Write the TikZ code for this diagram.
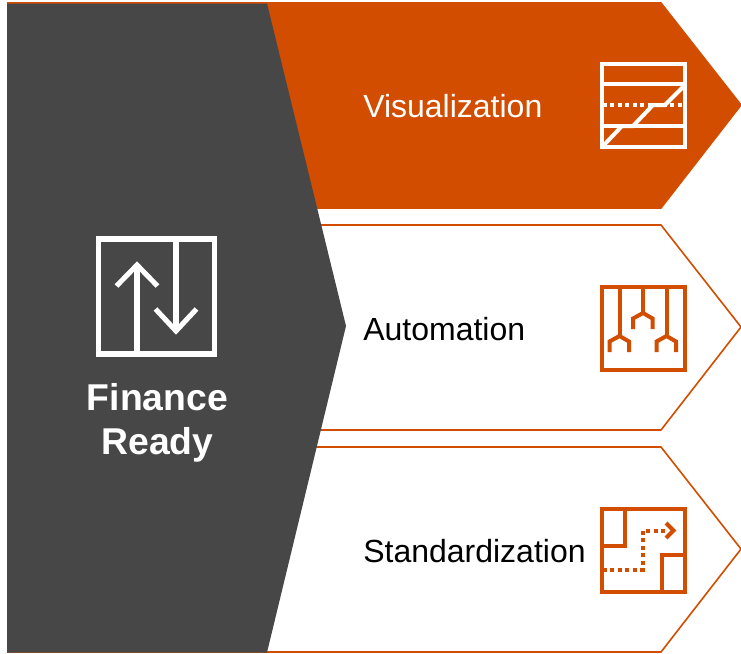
\documentclass[tikz,border=0pt]{standalone}
\usepackage{fontspec}
\setmainfont{Liberation Sans}
\definecolor{finorange}{HTML}{D24D00}
\definecolor{findark}{HTML}{474747}
\tikzset{
  rowfilled/.style={fill=finorange,draw=finorange,line width=1.2pt},
  rowplain/.style={fill=white,draw=finorange,line width=1.2pt},
  rowlabel/.style={anchor=base west,inner sep=0pt,font=\fontsize{24}{28}\selectfont},
  iconline/.style={line width=3pt,line join=miter},
  iconbig/.style={line width=3.8pt,line join=miter,white},
  icondots/.style={line width=3pt,dash pattern=on 3pt off 2.6pt},
}
\begin{document}
\begin{tikzpicture}[x=0.75pt,y=-0.75pt]
      \useasboundingbox (0,0) rectangle (741,653);

      \draw[rowfilled] (8,3) -- (661,3) -- (741,105) -- (661,208) -- (8,208) -- cycle;
      \draw[rowplain] (8,225) -- (661,225) -- (741,327) -- (661,430) -- (8,430) -- cycle;
      \draw[rowplain] (8,447) -- (661,447) -- (741,549) -- (661,652) -- (8,652) -- cycle;
      \fill[findark] (7,3.5) -- (267,3.5) -- (346,326) -- (267,652.5) -- (7,652.5) -- cycle;

      \node[rowlabel,white] (visual) at (363,117) {Visualization};
      \node[rowlabel] (auto) at (363,340) {Automation};
      \node[rowlabel] (standard) at (363,562) {Standardization};
      \node[white,align=center,inner sep=0pt,font=\fontsize{28}{33}\selectfont\bfseries] (ready) at (157.5,423) {Finance\\Ready};

      % finance icon
      \draw[iconbig] (98.5,239) rectangle (214.5,354);
      \draw[iconbig] (137,354) -- (137,265);
      \draw[iconbig] (116.5,286) -- (137,265) -- (157.5,286);
      \draw[iconbig] (176,239) -- (176,331);
      \draw[iconbig] (155.5,309) -- (176,331) -- (196.5,309);

      % visualization icon
      \begin{scope}[iconline,white]
        \draw (601.5,64) rectangle (684.5,147);
        \draw (601.5,84) -- (684.5,84);
        \draw (601.5,126) -- (684.5,126);
        \draw[icondots] (603,105) -- (683,105);
        \draw (603,146) -- (622,126) -- (633,126) -- (653,105) -- (665,105) -- (684,86);
      \end{scope}

      % automation icon
      \begin{scope}[iconline,finorange]
        \draw (601.5,286.5) rectangle (684.5,369.5);
        \draw (619.5,286.5) -- (619.5,336);
        \draw (609.5,352) -- (609.5,341.5) -- (619.5,336) -- (629,341.5) -- (629,352);
        \draw (643,286.5) -- (643,313);
        \draw (633,329) -- (633,318.5) -- (643,313) -- (652.5,318.5) -- (652.5,329);
        \draw (666.5,286.5) -- (666.5,336);
        \draw (656.5,352) -- (656.5,341.5) -- (666.5,336) -- (676,341.5) -- (676,352);
      \end{scope}

      % standardization icon
      \begin{scope}[iconline,finorange]
        \draw (601.5,508.5) rectangle (684.5,591.5);
        \draw (624.5,508.5) -- (624.5,546) -- (601.5,546);
        \draw (662,591.5) -- (662,554.5) -- (684.5,554.5);
        \draw[icondots] (603,569.5) -- (643,569.5) -- (643,530.5) -- (668,530.5);
        \draw (666,523) -- (673.5,530.5) -- (666,538);
      \end{scope}
    \end{tikzpicture}
\end{document}
